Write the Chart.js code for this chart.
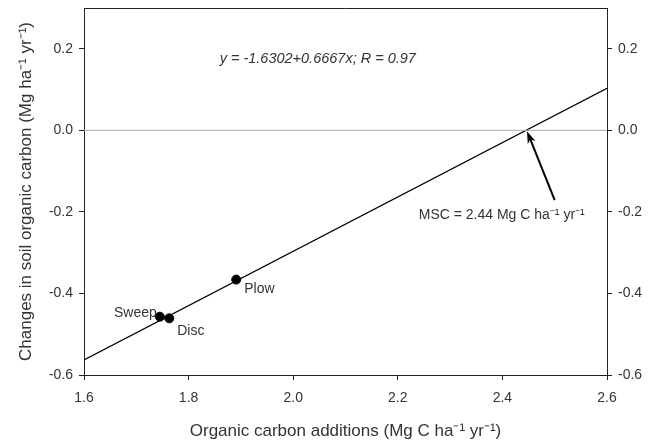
<!DOCTYPE html>
<html><head><meta charset="utf-8">
<script src="https://cdn.jsdelivr.net/npm/chart.js@4/dist/chart.umd.min.js"></script>
<style>html,body{margin:0;padding:0;background:#fff}#wrap{width:655px;height:442px}</style>
</head><body><div id="wrap"><canvas id="c" width="655" height="442"></canvas></div>
<script>
const pointNames = ["Sweep", "Disc", "Plow"];
const pointX = [1.745, 1.763, 1.891];
const pointY = [-0.457, -0.461, -0.366];
const fitX = [1.6, 2.6];
const fitY = [-0.563, 0.103];
const zeroX = [1.6, 2.6];
const zeroY = [0, 0];
const xTicks = [1.6, 1.8, 2.0, 2.2, 2.4, 2.6];
const yTicks = [-0.6, -0.4, -0.2, 0.0, 0.2];
const equationText = "y = -1.6302+0.6667x; R = 0.97";
const equationPos = [2.047, 0.176];
const mscText = "MSC = 2.44 Mg C ha\u207B\u00B9 yr\u207B\u00B9";
const mscLabelPos = [2.24, -0.207];
const arrowFrom = [2.5, -0.171];
const arrowTo = [2.447, -0.002];
const xTitle = "Organic carbon additions (Mg C ha\u207B\u00B9 yr\u207B\u00B9)";
const yTitle = "Changes in soil organic carbon (Mg ha\u207B\u00B9 yr\u207B\u00B9)";

const FONT = "'Liberation Sans', Arial, sans-serif";
const TXT = "#333";

const annot = {
  id: 'annot',
  afterDatasetsDraw(chart) {
    const ctx = chart.ctx, xs = chart.scales.x, ys = chart.scales.y, a = chart.chartArea;
    ctx.save();
    ctx.strokeStyle = "#222"; ctx.lineWidth = 1;
    ctx.beginPath(); ctx.moveTo(a.left, a.top + 0.5); ctx.lineTo(a.right, a.top + 0.5); ctx.stroke();
    ctx.fillStyle = TXT; ctx.font = "14px " + FONT; ctx.textBaseline = "middle";
    const offs = [[-3, -4, 'right'], [8, 13, 'left'], [8, 10, 'left']];
    pointNames.forEach((n, i) => {
      const px = xs.getPixelForValue(pointX[i]), py = ys.getPixelForValue(pointY[i]);
      ctx.textAlign = offs[i][2];
      ctx.fillText(n, px + offs[i][0], py + offs[i][1]);
    });
    ctx.font = "italic 14.5px " + FONT; ctx.textAlign = "center";
    ctx.fillText(equationText, xs.getPixelForValue(equationPos[0]), ys.getPixelForValue(equationPos[1]));
    ctx.font = "14px " + FONT; ctx.textAlign = "left";
    ctx.fillText(mscText, xs.getPixelForValue(mscLabelPos[0]), ys.getPixelForValue(mscLabelPos[1]));
    const x1 = xs.getPixelForValue(arrowFrom[0]), y1 = ys.getPixelForValue(arrowFrom[1]);
    const x2 = xs.getPixelForValue(arrowTo[0]), y2 = ys.getPixelForValue(arrowTo[1]);
    const ang = Math.atan2(y2 - y1, x2 - x1);
    ctx.strokeStyle = "#000"; ctx.lineWidth = 2;
    ctx.beginPath(); ctx.moveTo(x1, y1); ctx.lineTo(x2 - 6 * Math.cos(ang), y2 - 6 * Math.sin(ang)); ctx.stroke();
    ctx.fillStyle = "#000";
    ctx.beginPath();
    ctx.moveTo(x2, y2);
    ctx.lineTo(x2 - 13 * Math.cos(ang - 0.32), y2 - 13 * Math.sin(ang - 0.32));
    ctx.lineTo(x2 - 9 * Math.cos(ang), y2 - 9 * Math.sin(ang));
    ctx.lineTo(x2 - 13 * Math.cos(ang + 0.32), y2 - 13 * Math.sin(ang + 0.32));
    ctx.closePath(); ctx.fill();
    ctx.restore();
  }
};

const tickFont = { family: FONT, size: 14 };
const axisGrid = { display: true, drawOnChartArea: false, drawTicks: true, tickLength: 5, tickColor: "#222", lineWidth: 1 };
const fitY_ = w => s => { s.width = w; s.paddingTop = 0; s.paddingBottom = 0; };

new Chart(document.getElementById('c'), {
  type: 'scatter',
  data: {
    datasets: [
      { data: zeroX.map((x, i) => ({ x, y: zeroY[i] })), showLine: true, borderColor: "#aaa", borderWidth: 1, pointRadius: 0 },
      { data: fitX.map((x, i) => ({ x, y: fitY[i] })), showLine: true, borderColor: "#000", borderWidth: 1.3, pointRadius: 0 },
      { data: pointX.map((x, i) => ({ x, y: pointY[i] })), showLine: false, pointRadius: 4.5, pointBackgroundColor: "#000", pointBorderColor: "#000" }
    ]
  },
  options: {
    responsive: false, animation: false,
    layout: { padding: { top: 8, right: 0, left: 0, bottom: 0 } },
    plugins: { legend: { display: false }, tooltip: { enabled: false } },
    scales: {
      x: {
        type: 'linear', min: 1.6, max: 2.6,
        afterBuildTicks: s => { s.ticks = xTicks.map(v => ({ value: v })); },
        afterFit: s => { s.height = 67; s.paddingLeft = 0; s.paddingRight = 0; },
        ticks: { font: tickFont, color: TXT, padding: 10, maxRotation: 0, callback: v => v.toFixed(1) },
        grid: axisGrid,
        border: { display: true, color: "#222", width: 1 },
        title: { display: true, text: xTitle, font: { family: FONT, size: 17 }, color: TXT, padding: { top: 14, bottom: 0 } }
      },
      y: {
        type: 'linear', position: 'left', min: -0.6, max: 0.3,
        afterBuildTicks: s => { s.ticks = yTicks.map(v => ({ value: v })); },
        afterFit: fitY_(84),
        ticks: { font: tickFont, color: TXT, padding: 6, callback: v => v.toFixed(1) },
        grid: axisGrid,
        border: { display: true, color: "#222", width: 1 },
        title: { display: true, text: yTitle, font: { family: FONT, size: 17 }, color: TXT, padding: { top: 16, bottom: 4 } }
      },
      y2: {
        type: 'linear', position: 'right', min: -0.6, max: 0.3,
        afterBuildTicks: s => { s.ticks = yTicks.map(v => ({ value: v })); },
        afterFit: fitY_(48),
        ticks: { font: tickFont, color: TXT, padding: 6, callback: v => v.toFixed(1) },
        grid: axisGrid,
        border: { display: true, color: "#222", width: 1 }
      }
    }
  },
  plugins: [annot]
});
</script></body></html>
